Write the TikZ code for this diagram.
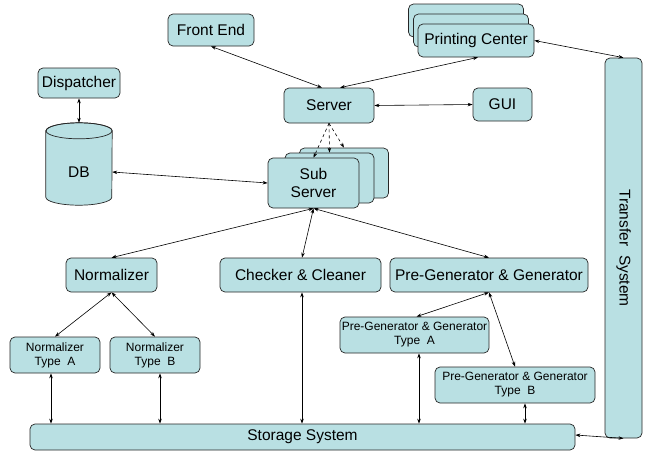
\documentclass[tikz,border=0pt]{standalone}
\usepackage{fontspec}
\setmainfont{Liberation Sans}
\usetikzlibrary{arrows.meta}
\definecolor{boxc}{RGB}{185,224,227}
\begin{document}
\begin{tikzpicture}[x=1pt,y=-1pt,
  box/.style={draw=black!85, fill=boxc, rounded corners=5pt, line width=0.7pt,
    align=center, inner sep=0pt, font=\fontsize{15.5}{18}\selectfont},
  sbox/.style={box, font=\fontsize{12}{14}\selectfont},
  conn/.style={line width=0.6pt, {Stealth[length=5pt,width=3.5pt]}-{Stealth[length=5pt,width=3.5pt]}},
  dconn/.style={line width=0.6pt, dashed, -{Stealth[length=5pt,width=3.5pt]}}]
\path[use as bounding box] (0,0) rectangle (649,456);

\node[box, minimum width=86, minimum height=32] (fe) at (211,30) {Front End};
\node[box, minimum width=115, minimum height=33] (pc3) at (466,20.5) {};
\node[box, minimum width=115, minimum height=33] (pc2) at (471,30.5) {};
\node[box, minimum width=116, minimum height=33] (pc) at (476,40.5) {Printing Center};
\node[box, minimum width=82, minimum height=30] (disp) at (79,83) {Dispatcher};
\node[box, minimum width=90, minimum height=35] (srv) at (329,105.5) {Server};
\node[box, minimum width=59, minimum height=33] (gui) at (502.5,104.5) {GUI};

% DB cylinder
\node[minimum width=66, minimum height=82, inner sep=0pt] (db) at (79,164) {};
\path[draw=black!85, fill=boxc, line width=0.7pt]
  ([yshift=-8pt]db.north west) -- ([yshift=8pt]db.south west)
  arc[start angle=180, end angle=360, x radius=33pt, y radius=8pt]
  -- ([yshift=-8pt]db.north east)
  arc[start angle=0, end angle=180, x radius=33pt, y radius=8pt] -- cycle;
\draw[draw=black!85, line width=0.7pt] ([yshift=-8pt]db.north) ellipse[x radius=33pt, y radius=8pt];
\node[font=\fontsize{15.5}{18}\selectfont] (dbl) at ([yshift=-8pt]db.center) {DB};

\node[box, minimum width=89, minimum height=50] (sub3) at (344,173) {};
\node[box, minimum width=89, minimum height=50] (sub2) at (329.5,178) {};
\node[box, minimum width=91, minimum height=50] (sub) at (313.5,183) {Sub\\Server};

\node[box, minimum width=91, minimum height=34] (norm) at (111.5,275) {Normalizer};
\node[box, minimum width=161, minimum height=34] (chk) at (300.5,275) {Checker \& Cleaner};
\node[box, minimum width=198, minimum height=34] (pg) at (489,275) {Pre-Generator \& Generator};

\node[sbox, minimum width=90, minimum height=36] (na) at (55,355) {Normalizer\\Type\ \ A};
\node[sbox, minimum width=90, minimum height=36] (nb) at (155,355) {Normalizer\\Type\ \ B};
\node[sbox, minimum width=149, minimum height=36] (pga) at (414.5,335) {Pre-Generator \& Generator\\Type\ \ A};
\node[sbox, minimum width=160, minimum height=36] (pgb) at (515,385) {Pre-Generator \& Generator\\Type\ \ B};

\node[box, minimum width=545, minimum height=26] (st) at (302.5,437) {Storage System};
\node[box, minimum width=37, minimum height=380] (ts) at (623.5,248) {};
\node[rotate=-90, font=\fontsize{15.5}{18}\selectfont] (tsl) at (ts.center) {Transfer\ \ System};

% connectors
\draw[conn] (fe.south) -- ([xshift=-7pt]srv.north);
\draw[conn] ([xshift=11pt]srv.north) -- ([xshift=2pt]pc.south);
\draw[conn] (pc.east) -- (ts.north);
\draw[conn] (srv.east) -- (gui.west);
\draw[conn] (disp.south) -- (db.north);
\draw[conn] ([yshift=-8pt]db.east) -- (sub.west);
\draw[dconn] (srv.south) -- (sub.north);
\draw[dconn] (srv.south) -- (sub2.north);
\draw[dconn] (srv.south) -- (sub3.north);
\draw[conn] (sub.south) -- (norm.north);
\draw[conn] (sub.south) -- ([xshift=1.5pt]chk.north);
\draw[conn] (sub.south) -- (pg.north);
\draw[conn] (norm.south) -- (na.north);
\draw[conn] (norm.south) -- (nb.north);
\draw[conn] (pg.south) -- ([xshift=2pt]pga.north);
\draw[conn] (pg.south) -- (pgb.north);
\draw[conn] ([xshift=-4pt]na.south) -- ([xshift=-4pt]na.south |- st.north);
\draw[conn] ([xshift=5pt]nb.south) -- ([xshift=5pt]nb.south |- st.north);
\draw[conn] ([xshift=1.5pt]chk.south) -- ([xshift=1.5pt]chk.south |- st.north);
\draw[conn] ([xshift=4.5pt]pga.south) -- ([xshift=4.5pt]pga.south |- st.north);
\draw[conn] ([xshift=10pt]pgb.south) -- ([xshift=10pt]pgb.south |- st.north);
\draw[conn] ([yshift=2pt]st.east) -- (ts.south);
\end{tikzpicture}
\end{document}
